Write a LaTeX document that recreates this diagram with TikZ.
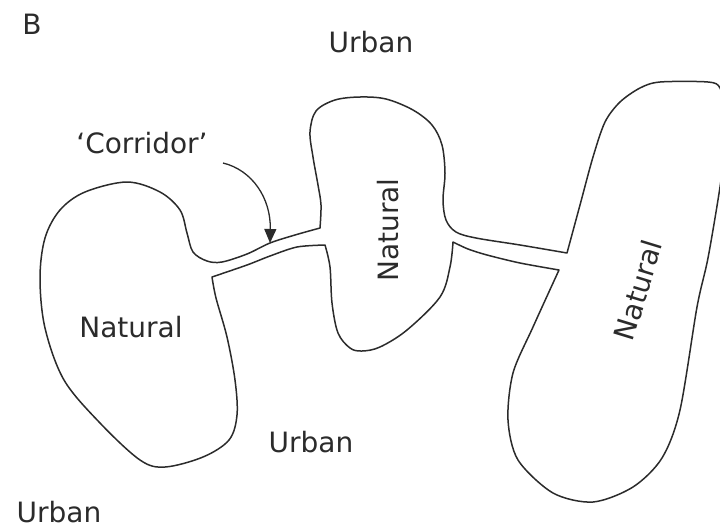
\documentclass[tikz,border=0pt]{standalone}
\usepackage{fontspec}
\setmainfont{DejaVu Sans}
\usetikzlibrary{arrows.meta}
\definecolor{ink}{HTML}{2B2B2B}
\tikzset{
  outline/.style={draw=ink, line width=1.5pt, line join=round, line cap=round},
  lbl/.style={text=ink, inner sep=0pt, font=\fontsize{28}{33}\selectfont},
  pointer/.style={draw=ink, line width=1.3pt, -{Triangle[length=14pt,width=12pt]}}
}
\begin{document}
\begin{tikzpicture}[x=1pt, y=-1pt]
\useasboundingbox (0,0) rectangle (720,528);
\clip (0,0) rectangle (720,528);

% patches of natural land joined by narrow corridors, drawn as one outline
\draw[outline]
  plot[smooth, tension=0.55] coordinates {
    (212,277) (216,298) (227,337) (235,380) (237,415) (229,440) (203,457)
    (165,467) (140,460) (100,423) (64,380) (45,328) (40,278) (45,238)
    (60,210) (85,192) (127,182) (160,192) (180,210) (187,233) (193,252)
    (207,261) (222,262) (247,254) (270,243) (295,235) (320,228)}
  -- plot[smooth, tension=0.55] coordinates {
    (320,228) (321,205) (318,185) (313,157) (310,132) (316,111) (335,100)
    (360,97) (386,99) (413,110) (432,125) (442,145) (445,173) (443,200)
    (446,220) (456,232) (476,238) (520,245) (567,253)}
  -- plot[smooth, tension=0.5] coordinates {
    (567,253) (580,205) (593,157) (605,122) (620,102) (640,88) (660,82)
    (708,82) (720,88) (725,112) (724,150) (720,187) (708,258) (697,307)
    (680,410) (662,458) (633,487) (593,502) (553,493) (518,460) (508,420)
    (513,373) (533,327) (559,270)}
  -- plot[smooth, tension=0.5] coordinates {
    (559,270) (520,263) (487,255) (468,249) (453,242)}
  -- plot[smooth, tension=0.55] coordinates {
    (453,242) (450,267) (440,297) (407,330) (380,347) (362,351) (350,348)
    (338,333) (332,303) (330,267) (325,245)}
  -- plot[smooth, tension=0.5] coordinates {
    (325,245) (297,247) (270,256) (247,265) (212,277)}
  -- cycle;

% labels
\node[lbl] (panel) at (32,24) {B};
\node[lbl] (urbanTop) at (371,42) {Urban};
\node[lbl] (urbanMid) at (311,442) {Urban};
\node[lbl] (urbanCorner) at (59,512) {Urban};
\node[lbl] (corridor) at (142,143) {‘Corridor’};
\node[lbl] (natLeft) at (131,327) {Natural};
\node[lbl, rotate=90] (natMid) at (388,230) {Natural};
\node[lbl, rotate=73] (natRight) at (638,290) {Natural};

% pointer from the label to the corridor
\coordinate (ptrStart) at (223,163);
\coordinate (ptrEnd) at (270,243);
\draw[pointer] (ptrStart) .. controls (252,170) and (271,198) .. (ptrEnd);
\end{tikzpicture}
\end{document}
